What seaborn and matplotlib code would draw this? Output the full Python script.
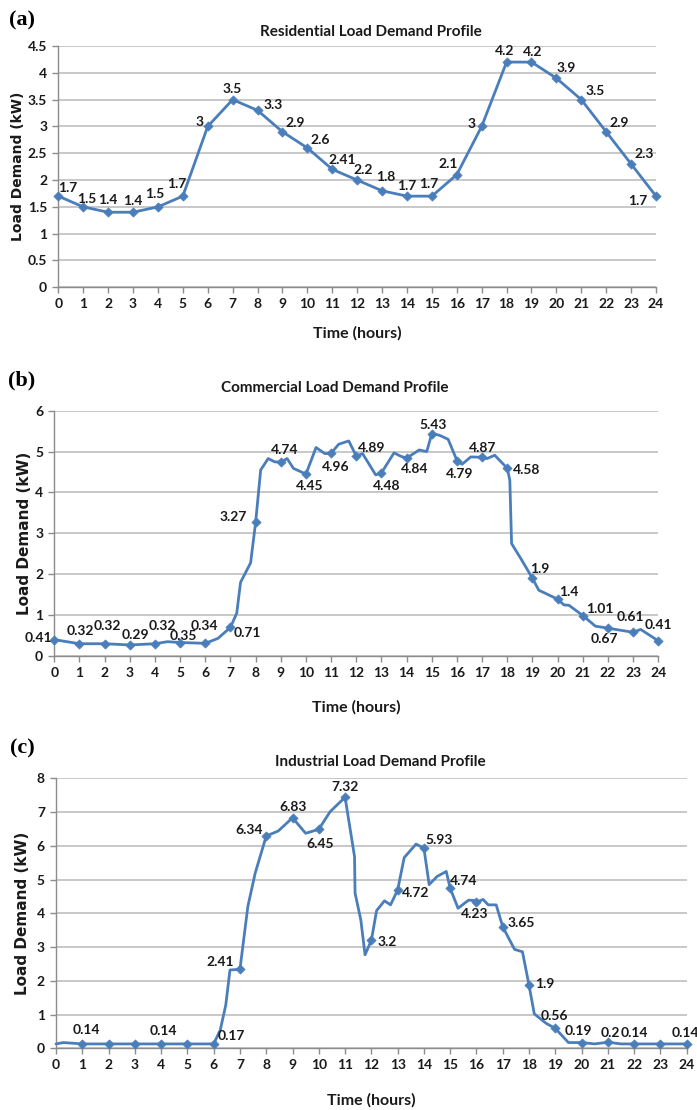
import numpy as np
import pandas as pd
import matplotlib
matplotlib.use("Agg")
import matplotlib.pyplot as plt
import seaborn as sns

# ---- data ----
# (a) residential, hourly
res_hours = list(range(25))
res_load = [1.7, 1.5, 1.4, 1.4, 1.5, 1.7, 3.0, 3.5, 3.3, 2.9, 2.6, 2.2, 2.0,
            1.8, 1.7, 1.7, 2.1, 3.0, 4.2, 4.2, 3.9, 3.5, 2.9, 2.3, 1.7]
res_labels = ["1.7", "1.5", "1.4", "1.4", "1.5", "1.7", "3", "3.5", "3.3", "2.9",
              "2.6", "2.41", "2.2", "1.8", "1.7", "1.7", "2.1", "3", "4.2", "4.2",
              "3.9", "3.5", "2.9", "2.3", "1.7"]
res_label_hours = list(range(25))

# (b) commercial, sub-hourly trace
com_hours = [0, 1, 2, 3, 4, 4.5, 5, 6, 6.5, 7, 7.25, 7.4, 7.8, 8, 8.2, 8.5, 8.75,
             9, 9.25, 9.5, 10, 10.4, 10.75, 11, 11.3, 11.7, 12, 12.25, 12.77, 13,
             13.5, 13.75, 14, 14.5, 14.8, 15, 15.3, 15.65, 16, 16.2, 16.55, 17,
             17.2, 17.5, 18, 18.1, 18.17, 18.57, 19, 19.25, 20, 20.25, 20.45, 21,
             21.5, 22, 23, 23.3, 24]
com_load = [0.40, 0.30, 0.30, 0.27, 0.30, 0.35, 0.33, 0.31, 0.43, 0.70, 1.05,
            1.80, 2.28, 3.27, 4.55, 4.83, 4.75, 4.74, 4.83, 4.59, 4.45, 5.10,
            4.95, 4.96, 5.18, 5.26, 4.89, 4.95, 4.43, 4.48, 4.97, 4.89, 4.84,
            5.04, 5.00, 5.44, 5.40, 5.30, 4.78, 4.69, 4.87, 4.86, 4.83, 4.91,
            4.59, 4.30, 2.75, 2.35, 1.90, 1.61, 1.39, 1.25, 1.24, 0.99, 0.73,
            0.68, 0.58, 0.65, 0.37]
com_labels = ["0.41", "0.32", "0.32", "0.29", "0.32", "0.35", "0.34", "0.71",
              "3.27", "4.74", "4.45", "4.96", "4.89", "4.48", "4.84", "5.43",
              "4.79", "4.87", "4.58", "1.9", "1.4", "1.01", "0.67", "0.61", "0.41"]
com_label_hours = list(range(25))

# (c) industrial, sub-hourly trace
ind_hours = [0, 0.28, 1, 2, 3, 4, 5, 6, 6.25, 6.46, 6.62, 7, 7.3, 7.58, 8, 8.46,
             9, 9.5, 10, 10.43, 11, 11.36, 11.38, 11.6, 11.76, 12, 12.2, 12.5,
             12.73, 13, 13.25, 13.7, 14, 14.2, 14.5, 14.85, 15, 15.3, 15.7, 15.9,
             16, 16.25, 16.45, 16.75, 17, 17.45, 17.75, 18, 18.2, 18.65, 19, 19.5,
             20, 20.5, 21, 21.5, 22, 23, 24]
ind_load = [0.13, 0.17, 0.13, 0.13, 0.13, 0.13, 0.13, 0.13, 0.54, 1.28, 2.32,
            2.34, 4.20, 5.19, 6.29, 6.44, 6.83, 6.37, 6.49, 7.01, 7.44, 5.68,
            4.60, 3.80, 2.77, 3.20, 4.08, 4.37, 4.25, 4.69, 5.65, 6.05, 5.93,
            4.85, 5.09, 5.24, 4.74, 4.15, 4.39, 4.38, 4.33, 4.41, 4.25, 4.25,
            3.60, 2.93, 2.86, 1.87, 1.02, 0.74, 0.59, 0.17, 0.17, 0.13, 0.18,
            0.13, 0.13, 0.13, 0.13]
ind_labels = ["0.14", "0.14", "0.17", "2.41", "6.34", "6.83", "6.45", "7.32",
              "3.2", "4.72", "5.93", "4.74", "4.23", "3.65", "1.9", "0.56",
              "0.19", "0.2", "0.14", "0.14"]
ind_label_hours = [1, 4, 6, 7, 8, 9, 10, 11, 12, 13, 14, 15, 16, 17, 18, 19,
                   20, 21, 22, 24]

# label offsets from their marker, in points
res_offsets = [(7, 6), (2.5, 6), (0, 8.5), (0, 8), (-2.5, 9), (-4.5, 8.5),
               (-6, 3), (0, 7.5), (11, 3.5), (9.5, 6), (9, 5.5), (7.5, 7),
               (4, 7), (2.5, 10), (0, 7.5), (-2, 8.5), (-6.5, 8), (-7.5, 2),
               (-1.5, 8), (0.5, 7), (7, 7), (10, 6), (9.5, 6), (9.5, 7.5),
               (-13, -3.5)]
com_offsets = [(-11.5, 1), (1, 9), (2, 12.5), (4, 7.5), (5, 12.5), (2.5, 4.5),
               (-1, 12.5), (12, -4), (-16, 4), (3, 8.5), (2.5, -8.5), (3, -10),
               (11, 5.5), (4, -9.5), (5.5, -8), (1, 6), (2, -9.5), (0, 7),
               (14, -1), (5, 6.5), (8, 5), (12, 4.5), (-2.5, -8), (-2, 11),
               (0, 11.5)]
ind_offsets = [(3, 10), (1.5, 9.5), (13, 5.5), (-14, 5.5), (-12.5, 4.5),
               (0.5, 8), (1, -10.5), (0, 7), (11.5, -1), (13, -2), (11, 6),
               (10, 5), (-1.5, -8.5), (13, 2.5), (11.5, 1), (-1, 9), (-2.5, 8.5),
               (2, 6.5), (0, 7.5), (-1, 7.5)]

LINE = "#4A7EBB"
GRID = "#C4C4C4"
SPINE = "#8C8C8C"
FONT = ["Lato", "DejaVu Sans"]

sns.set_theme(style="white")
plt.rcParams["font.family"] = FONT

fig = plt.figure(figsize=(6.97, 11.10), dpi=100)

panels = [
    dict(letter="(a)", title="Residential Load Demand Profile",
         hours=res_hours, load=res_load, labels=res_labels,
         label_hours=res_label_hours, offsets=res_offsets, min_marker=0,
         yticks=np.arange(0, 4.51, 0.5), ytick_fmt="{:g}",
         rect=[58.3, 46.0, 656.0, 287.3], title_xy=(371, 32),
         xlabel_y=333, ylabel_x=18, letter_y=20, ylab_size=10),
    dict(letter="(b)", title="Commercial Load Demand Profile",
         hours=com_hours, load=com_load, labels=com_labels,
         label_hours=com_label_hours, offsets=com_offsets, min_marker=0,
         yticks=np.arange(0, 7, 1), ytick_fmt="{:g}",
         rect=[54.3, 410.7, 658.3, 656.0], title_xy=(335, 388),
         xlabel_y=707, ylabel_x=25, letter_y=380, ylab_size=11),
    dict(letter="(c)", title="Industrial Load Demand Profile",
         hours=ind_hours, load=ind_load, labels=ind_labels,
         label_hours=ind_label_hours, offsets=ind_offsets, min_marker=1,
         yticks=np.arange(0, 9, 1), ytick_fmt="{:g}",
         rect=[56.0, 778.3, 686.7, 1048.3], title_xy=(380, 762),
         xlabel_y=1100, ylabel_x=23, letter_y=748, ylab_size=11),
]

W, H = 697.0, 1110.0

for p in panels:
    x0, ytop, x1, ybot = p["rect"]
    ax = fig.add_axes([x0 / W, 1 - ybot / H, (x1 - x0) / W, (ybot - ytop) / H])
    df = pd.DataFrame({"hour": p["hours"], "load": p["load"]})
    marks = df[(df["hour"] % 1 == 0) & (df["hour"] >= p["min_marker"])]

    sns.lineplot(data=df, x="hour", y="load", ax=ax, sort=False, estimator=None,
                 color=LINE, linewidth=2.0, zorder=3, clip_on=False)
    sns.scatterplot(data=marks, x="hour", y="load", ax=ax, marker="D", s=22,
                    color=LINE, edgecolor=LINE, linewidth=0.5, zorder=4,
                    clip_on=False)

    vals = dict(zip(df["hour"], df["load"]))
    for h, txt, off in zip(p["label_hours"], p["labels"], p["offsets"]):
        ax.annotate(txt, (h, vals[h]), xytext=off, textcoords="offset points",
                    ha="center", va="center", fontsize=10, fontweight="bold",
                    color="#1a1a1a", zorder=5, annotation_clip=False)

    ax.set_xlim(0, 24)
    ax.set_ylim(p["yticks"][0], p["yticks"][-1])
    ax.set_xticks(range(25))
    ax.set_yticks(p["yticks"])
    ax.set_yticklabels([p["ytick_fmt"].format(v) for v in p["yticks"]])
    ax.grid(axis="y", color=GRID, linewidth=1.3)
    ax.grid(axis="x", visible=False)
    ax.set_axisbelow(True)
    for s in ["top", "right"]:
        ax.spines[s].set_visible(False)
    for s in ["left", "bottom"]:
        ax.spines[s].set_color(SPINE)
        ax.spines[s].set_linewidth(1.0)
    ax.tick_params(axis="both", which="major", direction="out", length=4,
                   width=1.0, color=SPINE, labelsize=10, pad=4,
                   bottom=True, left=True)
    for t in ax.get_xticklabels() + ax.get_yticklabels():
        t.set_fontweight("bold")
        t.set_color("#1a1a1a")

    ax.set_xlabel("")
    ax.set_ylabel("")
    fig.text(p["title_xy"][0] / W, 1 - p["title_xy"][1] / H, p["title"],
             ha="center", va="center", fontsize=11, fontweight="bold",
             color="#1a1a1a")
    fig.text(((x0 + x1) / 2) / W, 1 - p["xlabel_y"] / H, "Time (hours)",
             ha="center", va="center", fontsize=11.5, fontweight="bold",
             color="#1a1a1a")
    fig.text(p["ylabel_x"] / W, 1 - ((ytop + ybot) / 2) / H, "Load Demand (kW)",
             ha="center", va="center", rotation=90, fontsize=p["ylab_size"],
             fontweight="bold", family=["DejaVu Sans"], color="#1a1a1a")
    fig.text(22 / W, 1 - p["letter_y"] / H, p["letter"], ha="center",
             va="center", fontsize=16, fontweight="bold",
             family=["Liberation Serif", "DejaVu Serif"], color="black")

fig.savefig("out.png", dpi=100, facecolor="white")
